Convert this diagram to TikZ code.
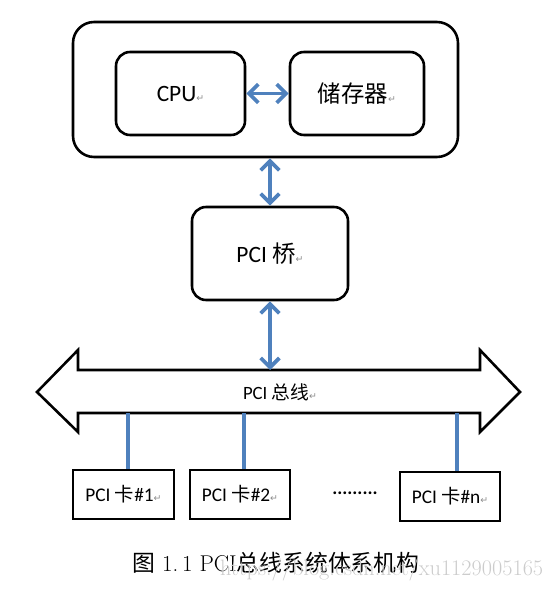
\documentclass[tikz,border=0pt]{standalone}
\usepackage{fontspec}
\setsansfont{Carlito}
\newfontfamily\cjk{Noto Sans CJK SC}
\newfontfamily\symfont{DejaVu Sans}
\usetikzlibrary{arrows.meta,positioning}
\definecolor{linkblue}{RGB}{79,129,189}
\newcommand{\ret}{{\symfont\color{black!45}\fontsize{8}{8}\selectfont ↵}}
\begin{document}
\begin{tikzpicture}[thick,
    box node/.style={draw,line width=2.2pt,rounded corners=12pt,font=\sffamily\fontsize{20}{24}\selectfont},
    card node/.style={draw,line width=2.2pt,minimum width=3.03cm,minimum height=1.47cm,font=\sffamily\fontsize{16.5}{18}\selectfont},
    link/.style={linkblue,line width=3.2pt,{Straight Barb[length=2.8mm,width=5.6mm]}-{Straight Barb[length=2.8mm,width=5.6mm]}},
    tap/.style={linkblue,line width=3pt}]

      \useasboundingbox (0,0) rectangle (16.71,-17.67);

      % Define vertices
      \node[box node,rounded corners=18pt,minimum width=11.55cm,minimum height=4.05cm] (host) at (7.965,-2.685) {};
      \node[box node,minimum width=3.87cm,minimum height=2.49cm] (cpu) at (5.415,-2.805) {CPU\ret};
      \node[box node,minimum width=4.02cm,minimum height=2.49cm] (mem) at (10.71,-2.805) {{\cjk 储存器}\ret};
      \node[box node,minimum width=4.68cm,minimum height=2.79cm] (bridge) at (8.1,-7.605) {PCI {\cjk 桥}\ret};

      % PCI bus
      \draw[line width=2.2pt,line join=miter]
        (1.11,-11.76) -- (2.34,-10.5) -- (2.34,-11.1) coordinate (bus top)
        -- (14.4,-11.1) -- (14.4,-10.5) -- (15.6,-11.76) -- (14.4,-12.96)
        -- (14.4,-12.39) -- (2.34,-12.39) coordinate (bus bottom) -- (2.34,-12.96) -- cycle;
      \node[font=\sffamily\fontsize{16}{18}\selectfont] (bus) at (8.4,-11.76) {PCI {\cjk 总线}\ret};

      % PCI cards
      \node[card node] (card1) at (3.705,-14.835) {PCI {\cjk 卡}\#1\ret};
      \node[card node,minimum width=3.0cm] (card2) at (7.2,-14.835) {PCI {\cjk 卡}\#2\ret};
      \node[card node,minimum width=3.0cm] (cardn) at (13.5,-14.895) {PCI {\cjk 卡}\#n\ret};
      \node[font=\sffamily\bfseries\fontsize{16}{18}\selectfont] (dots) at (10.65,-14.8) {.........};

      % Taps from the bus
      \coordinate (tap1) at (3.84,-12.39);
      \coordinate (tap2) at (7.32,-12.39);
      \coordinate (tapn) at (13.71,-12.39);

      % Links
      \draw[link] (cpu) -- (mem);
      \draw[link] (host.south -| bridge.north) -- (bridge.north);
      \draw[link] (bridge.south) -- (bridge.south |- bus top);
      \draw[tap] (tap1) -- (tap1 |- card1.north);
      \draw[tap] (tap2) -- (tap2 |- card2.north);
      \draw[tap] (tapn) -- (tapn |- cardn.north);

      % Caption
      \node[font=\fontsize{19.5}{22}\selectfont] (caption) at (8.28,-16.89) {{\cjk 图} 1.\,1 PCI{\cjk 总线系统体系机构}};
      \node[text=black!20,font=\fontsize{19}{20}\selectfont] (mark) at (11.45,-17.1) {https://blog.csdn.net/xu1129005165};

    \end{tikzpicture}
\end{document}
